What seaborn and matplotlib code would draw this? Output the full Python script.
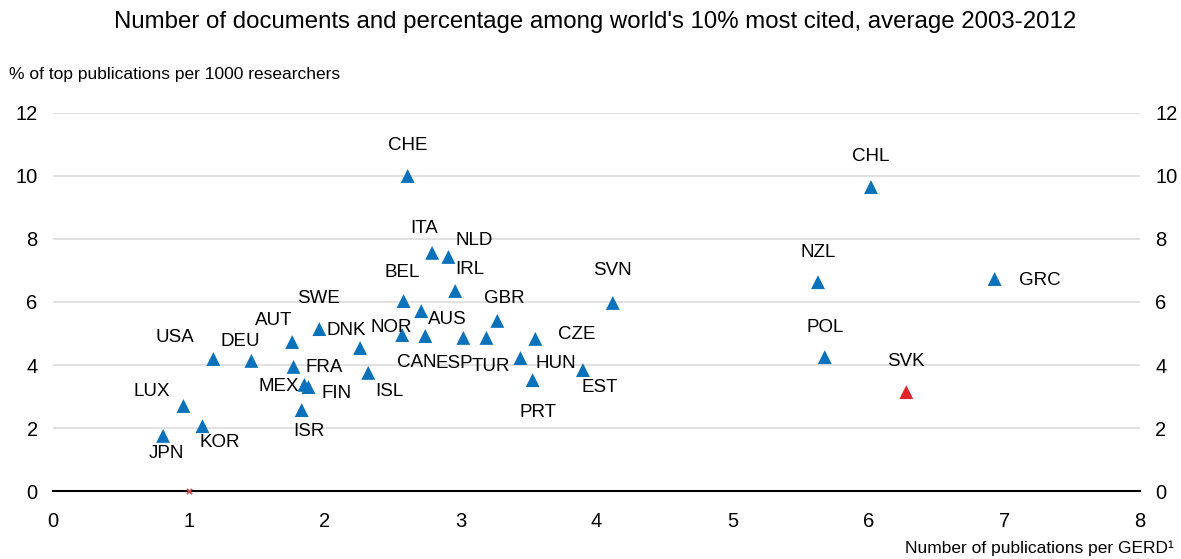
import numpy as np
import pandas as pd
import matplotlib
matplotlib.use("Agg")
import matplotlib.pyplot as plt
import seaborn as sns

# data
countries = ["JPN", "LUX", "KOR", "USA", "DEU", "AUT", "FRA", "MEX", "FIN", "ISR",
             "SWE", "DNK", "ISL", "CHE", "ITA", "NLD", "IRL", "BEL", "AUS", "NOR",
             "CAN", "ESP", "TUR", "GBR", "CZE", "HUN", "PRT", "EST", "SVN",
             "CHL", "NZL", "GRC", "POL", "SVK"]
pubs_per_gerd = [0.81, 0.96, 1.10, 1.18, 1.46, 1.76, 1.77, 1.85, 1.88, 1.83,
                 1.96, 2.26, 2.32, 2.61, 2.79, 2.91, 2.96, 2.58, 2.71, 2.57,
                 2.74, 3.02, 3.19, 3.27, 3.55, 3.44, 3.53, 3.90, 4.12,
                 6.02, 5.63, 6.93, 5.68, 6.28]
top_pct = [1.75, 2.70, 2.06, 4.19, 4.13, 4.73, 3.94, 3.37, 3.30, 2.57,
           5.14, 4.54, 3.75, 10.0, 7.56, 7.43, 6.35, 6.03, 5.71, 4.95,
           4.92, 4.86, 4.86, 5.40, 4.83, 4.22, 3.52, 3.84, 5.97,
           9.65, 6.63, 6.73, 4.25, 3.14]
highlight = "SVK"
ref_x = [1]
ref_y = [0]

df = pd.DataFrame({"country": countries, "x": pubs_per_gerd, "y": top_pct})
df["group"] = np.where(df["country"] == highlight, "hl", "other")

# label offsets in pixels (dx, dy)
offsets = {
    "CHE": (0, 30), "CHL": (0, 31), "NZL": (0, 30), "GRC": (45, -1), "POL": (0, 30),
    "SVK": (0, 31), "SVN": (0, 32), "ITA": (-8, 24), "NLD": (26, 16), "IRL": (15, 21),
    "BEL": (-1, 29), "AUS": (26, -8), "NOR": (-11, 8), "GBR": (7, 22), "CAN": (-9, -26),
    "ESP": (-9, -26), "TUR": (4, -29), "CZE": (41, 4), "HUN": (35, -5), "EST": (17, -17),
    "PRT": (5, -32), "SWE": (-1, 31), "DNK": (-14, 17), "AUT": (-18, 22), "USA": (-38, 22),
    "DEU": (-11, 19), "LUX": (-32, 14), "KOR": (17, -16), "JPN": (3, -18), "FRA": (31, -1),
    "MEX": (-26, -2), "FIN": (28, -6), "ISR": (7, -21), "ISL": (21, -19),
}

sns.set_style("white")
plt.rcParams["font.family"] = ["Liberation Sans", "DejaVu Sans"]
plt.rcParams["text.color"] = "black"
plt.rcParams["xtick.labelcolor"] = "black"
plt.rcParams["ytick.labelcolor"] = "black"

blue = "#0a72ba"
red = "#e2242c"

fig = plt.figure(figsize=(11.81, 5.59), dpi=100)
ax = fig.add_axes([0.0449, 0.1216, 0.9204, 0.6763])

ax.set_axisbelow(True)
ax.grid(axis="y", color="#dcdcdc", linewidth=1.2)

sns.scatterplot(data=df, x="x", y="y", hue="group", palette={"other": blue, "hl": red},
                marker="^", s=100, linewidth=0, legend=False, ax=ax, zorder=3)
ax.scatter(ref_x, ref_y, marker="x", s=14, color="#d24a4a", linewidths=1.2,
           zorder=5, clip_on=False)

for _, r in df.iterrows():
    dx, dy = offsets[r["country"]]
    ax.annotate(r["country"], (r["x"], r["y"]), xytext=(dx, dy), textcoords="offset pixels",
                ha="center", va="center", fontsize=13.5, color="black")

ax.set_xlim(0, 8)
ax.set_ylim(0, 12)
ax.set_xticks(range(0, 9))
ax.set_yticks(range(0, 13, 2))
ax.set_xlabel("")
ax.set_ylabel("")

for s in ["left", "right", "top"]:
    ax.spines[s].set_visible(False)
ax.spines["bottom"].set_color("black")
ax.spines["bottom"].set_linewidth(1.5)

ax.tick_params(axis="x", direction="in", length=6, width=1.2, color="black",
               labelsize=14.5, pad=15, labelcolor="black")
ax.tick_params(axis="y", length=0, labelsize=14.5, pad=11, labelright=True,
               labelcolor="black")

fig.text(0.504, 0.961, "Number of documents and percentage among world's 10% most cited, average 2003-2012",
         ha="center", va="center", fontsize=17.3, color="black")
fig.text(0.008, 0.866, "% of top publications per 1000 researchers",
         ha="left", va="center", fontsize=12.5, color="black")
fig.text(0.994, 0.02, "Number of publications per GERD\u00b9",
         ha="right", va="center", fontsize=12.5, color="black")

fig.savefig("out.png", dpi=100)
